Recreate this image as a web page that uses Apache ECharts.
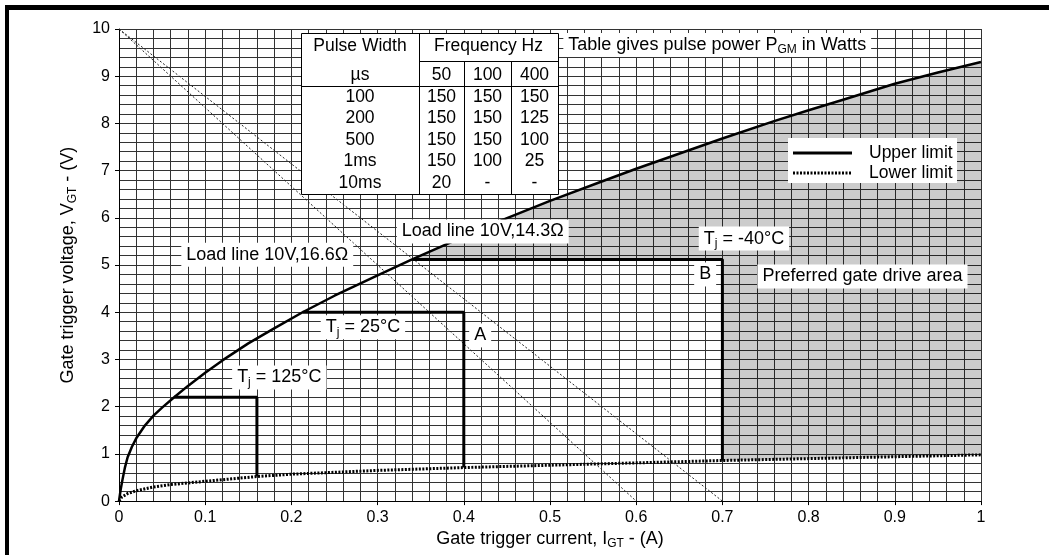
<!DOCTYPE html>
<html>
<head>
<meta charset="utf-8">
<title>Gate trigger characteristics</title>
<script src="https://cdn.jsdelivr.net/npm/echarts@6/dist/echarts.min.js"></script>
<style>
  html, body { margin: 0; padding: 0; background: #fff; }
  #chart { width: 1049px; height: 555px; }
</style>
</head>
<body>
<div id="chart"></div>
<script>
// gate current I_GT (A) vs gate voltage V_GT (V)
const upperLimit = [
  [0, 0], [0.002, 0.25], [0.004, 0.45], [0.007, 0.72], [0.01, 0.93], [0.015, 1.15],
  [0.02, 1.33], [0.03, 1.6], [0.04, 1.81], [0.05, 1.98], [0.064, 2.2], [0.08, 2.44],
  [0.1, 2.72], [0.12, 2.98], [0.15, 3.34], [0.18, 3.66], [0.213, 4.0], [0.25, 4.35],
  [0.3, 4.78], [0.34, 5.12], [0.4, 5.6], [0.44, 5.92], [0.5, 6.36], [0.56, 6.77],
  [0.6, 7.04], [0.7, 7.68], [0.76, 8.05], [0.8, 8.28], [0.84, 8.5], [0.9, 8.84],
  [0.95, 9.08], [1.0, 9.3]
];
const lowerLimit = [
  [0, 0], [0.003, 0.08], [0.01, 0.16], [0.02, 0.22], [0.04, 0.3], [0.06, 0.35],
  [0.1, 0.42], [0.16, 0.52], [0.2, 0.57], [0.3, 0.65], [0.4, 0.71], [0.5, 0.76],
  [0.6, 0.81], [0.7, 0.86], [0.8, 0.9], [0.9, 0.94], [1.0, 0.98]
];
const loadLine166 = [[0, 10], [0.6, 0]];
const loadLine143 = [[0, 10], [0.7, 0]];
const tj125 = [[0.064, 2.2], [0.16, 2.2], [0.16, 0.52]];
const tj25 = [[0.213, 4.0], [0.4, 4.0], [0.4, 0.71]];
const tjMinus40 = [[0.34, 5.12], [0.7, 5.12], [0.7, 0.86]];

// pulse power table (W)
const pulseWidths = ['100', '200', '500', '1ms', '10ms'];
const frequencies = ['50', '100', '400'];
const pulsePower = [
  ['150', '150', '150'],
  ['150', '150', '125'],
  ['150', '150', '100'],
  ['150', '100', '25'],
  ['20', '-', '-']
];

// text notes, anchored at (A, V)
const notes = [
  { name: '{t|Table gives pulse power P}{s|GM}{t| in Watts}', value: [0.694, 9.66] },
  { name: '{t|Load line 10V,16.6Ω}', value: [0.172, 5.22] },
  { name: '{t|Load line 10V,14.3Ω}', value: [0.422, 5.71] },
  { name: '{t|T}{s|j}{t| = 25°C}', value: [0.283, 3.68] },
  { name: '{t|A}', value: [0.419, 3.51] },
  { name: '{t|T}{s|j}{t| = 125°C}', value: [0.186, 2.62] },
  { name: '{t|T}{s|j}{t| = -40°C}', value: [0.725, 5.56] },
  { name: '{t|B}', value: [0.68, 4.8] },
  { name: '{t|Preferred gate drive area}', value: [0.8625, 4.76] }
];

const FONT = 'Liberation Sans';
const richText = {
  t: { fontSize: 18, lineHeight: 22, fontFamily: FONT, color: '#000' },
  s: { fontSize: 12, lineHeight: 9, verticalAlign: 'bottom', fontFamily: FONT, color: '#000' }
};

// shaded area: above the -40C box up to the upper limit, right of 0.7A down to lower limit
const gateArea = upperLimit.filter(p => p[0] >= tjMinus40[0][0])
  .concat(lowerLimit.filter(p => p[0] >= tjMinus40[1][0]).reverse())
  .concat([tjMinus40[1], tjMinus40[0]]);

const onTop = list => list.map(el => Object.assign({ z: 100 }, el));

function tableGraphic() {
  const x0 = 301, x1 = 558, y0 = 33, y1 = 194;
  const colX = [419, 464, 511];
  const yFreq = 61, yHead = 86;
  const rowH = (y1 - yHead) / pulseWidths.length;
  const ln = (ax, ay, bx, by) => ({
    type: 'line', shape: { x1: ax, y1: ay, x2: bx, y2: by },
    style: { stroke: '#000', lineWidth: 1 }
  });
  const txt = (s, x, y) => ({
    type: 'text', x: x, y: y,
    style: { text: s, fontSize: 17.5, fontFamily: FONT, fill: '#000', align: 'center', verticalAlign: 'middle' }
  });
  const kids = [
    { type: 'rect', shape: { x: x0 + 0.5, y: y0 + 0.5, width: x1 - x0, height: y1 - y0 },
      style: { fill: '#fff', stroke: '#000', lineWidth: 1 } },
    ln(colX[0] + 0.5, y0, colX[0] + 0.5, y1),
    ln(colX[0], yFreq + 0.5, x1, yFreq + 0.5),
    ln(x0, yHead + 0.5, x1, yHead + 0.5),
    ln(colX[1] + 0.5, yFreq, colX[1] + 0.5, y1),
    ln(colX[2] + 0.5, yFreq, colX[2] + 0.5, y1),
    txt('Pulse Width', (x0 + colX[0]) / 2, 46),
    txt('Frequency Hz', (colX[0] + x1) / 2, 46),
    txt('µs', (x0 + colX[0]) / 2, 75)
  ];
  const cx = [(colX[0] + colX[1]) / 2, (colX[1] + colX[2]) / 2, (colX[2] + x1) / 2];
  frequencies.forEach((f, j) => kids.push(txt(f, cx[j], 75)));
  pulseWidths.forEach((pw, i) => {
    const cy = yHead + rowH * (i + 0.5);
    kids.push(txt(pw, (x0 + colX[0]) / 2, cy));
    pulsePower[i].forEach((v, j) => kids.push(txt(v, cx[j], cy)));
  });
  return onTop(kids);
}

function legendGraphic() {
  const label = (s, y) => ({
    type: 'text', x: 869, y: y,
    style: { text: s, fontSize: 17.5, fontFamily: FONT, fill: '#000', align: 'left', verticalAlign: 'middle' }
  });
  return onTop([
    { type: 'rect', shape: { x: 788, y: 138, width: 169, height: 45 }, style: { fill: '#fff' } },
    { type: 'line', shape: { x1: 793, y1: 153, x2: 852, y2: 153 }, style: { stroke: '#000', lineWidth: 3 } },
    { type: 'line', shape: { x1: 793, y1: 173, x2: 852, y2: 173 },
      style: { stroke: '#000', lineWidth: 3, lineDash: [2, 1.5] } },
    label('Upper limit', 153),
    label('Lower limit', 173)
  ]);
}

const gridLine = { show: true, lineStyle: { color: '#333', width: 1 } };
const thick = { color: '#000', width: 3 };

const chart = echarts.init(document.getElementById('chart'));
chart.setOption({
  animation: false,
  backgroundColor: '#fff',
  textStyle: { fontFamily: FONT },
  grid: { left: 119, top: 29, width: 862, height: 473, containLabel: false },
  xAxis: {
    type: 'value', min: 0, max: 1, interval: 0.1,
    name: '{t|Gate trigger current, I}{s|GT}{t| - (A)}',
    nameLocation: 'middle', nameGap: 26,
    nameTextStyle: { rich: richText },
    axisLine: { lineStyle: { color: '#000', width: 1 } },
    axisTick: { show: true, length: 4, lineStyle: { color: '#000' } },
    axisLabel: { color: '#000', fontSize: 16, fontFamily: FONT, margin: 8 },
    splitLine: gridLine,
    minorTick: { show: false, splitNumber: 5 },
    minorSplitLine: gridLine
  },
  yAxis: {
    type: 'value', min: 0, max: 10, interval: 1,
    name: '{t|Gate trigger voltage, V}{s|GT}{t| - (V)}',
    nameLocation: 'middle', nameGap: 40, nameRotate: 90,
    nameTextStyle: { rich: richText },
    axisLine: { show: true, lineStyle: { color: '#000', width: 1 } },
    axisTick: { show: true, length: 4, lineStyle: { color: '#000' } },
    axisLabel: { color: '#000', fontSize: 16, fontFamily: FONT, margin: 9 },
    splitLine: gridLine,
    minorTick: { show: false, splitNumber: 5 },
    minorSplitLine: gridLine
  },
  graphic: onTop([
    { type: 'rect', shape: { x: 5, y: 5, width: 4, height: 550 }, style: { fill: '#000' } },
    { type: 'rect', shape: { x: 5, y: 5, width: 1044, height: 5 }, style: { fill: '#000' } }
  ]).concat(tableGraphic(), legendGraphic()),
  series: [
    {
      type: 'custom', name: 'Preferred gate drive area', z: 1, silent: true,
      data: [[0.7, 5]],
      renderItem: (params, api) => ({
        type: 'polygon',
        shape: { points: gateArea.map(p => api.coord(p)) },
        style: { fill: 'rgba(0,0,0,0.2)' }
      })
    },
    { type: 'line', name: 'Load line 10V,16.6Ω', data: loadLine166, symbol: 'none', z: 2,
      lineStyle: { color: '#222', width: 1, type: [2, 2] } },
    { type: 'line', name: 'Load line 10V,14.3Ω', data: loadLine143, symbol: 'none', z: 2,
      lineStyle: { color: '#222', width: 1, type: [2, 2] } },
    { type: 'line', name: 'Lower limit', data: lowerLimit, symbol: 'none', z: 3,
      lineStyle: { color: '#000', width: 3, type: [2, 1.5] } },
    { type: 'line', name: 'Upper limit', data: upperLimit, symbol: 'none', z: 3,
      lineStyle: { color: '#000', width: 2.5, join: 'round' } },
    { type: 'line', name: 'Tj 125', data: tj125, symbol: 'none', z: 4, lineStyle: thick },
    { type: 'line', name: 'Tj 25', data: tj25, symbol: 'none', z: 4, lineStyle: thick },
    { type: 'line', name: 'Tj -40', data: tjMinus40, symbol: 'none', z: 4, lineStyle: thick },
    {
      type: 'scatter', name: 'notes', data: notes, z: 10, silent: true,
      symbolSize: 1, itemStyle: { color: 'rgba(0,0,0,0)', opacity: 1 },
      label: {
        show: true, position: 'inside', formatter: p => p.name, opacity: 1,
        backgroundColor: '#fff', padding: [1, 5], rich: richText
      }
    }
  ]
});
</script>
</body>
</html>
